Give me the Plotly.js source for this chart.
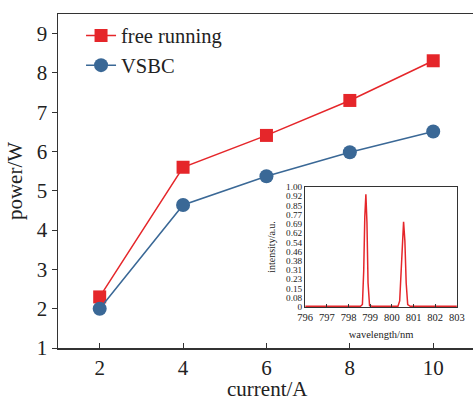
<!DOCTYPE html>
<html>
<head>
<meta charset="utf-8">
<script src="https://cdn.plot.ly/plotly-3.0.1.min.js"></script>
<style>html,body{margin:0;padding:0;background:#fff;overflow:hidden;}#wrap{width:473px;height:397px;overflow:hidden;}#chart{width:477px;height:397px;}</style>
</head>
<body>
<div id="wrap"><div id="chart"></div></div>
<script>
// main chart data
const current = [2, 4, 6, 8, 10];
const freeRunning = [2.3, 5.6, 6.41, 7.3, 8.31];
const vsbc = [2.0, 4.64, 5.37, 5.98, 6.51];

// inset spectrum
const wavelength = [796, 797, 798, 798.55, 798.64, 798.70, 798.75, 798.80, 798.85, 798.90, 798.97, 799.1, 800, 800.28, 800.36, 800.43, 800.49, 800.54, 800.60, 800.66, 800.73, 800.85, 801.5, 802, 803];
const intensity = [0.005, 0.005, 0.005, 0.005, 0.02, 0.3, 0.75, 0.94, 0.7, 0.2, 0.01, 0.005, 0.005, 0.006, 0.05, 0.3, 0.62, 0.71, 0.55, 0.2, 0.02, 0.005, 0.005, 0.005, 0.005];

const insetTickVals = [0, 0.077, 0.154, 0.231, 0.308, 0.385, 0.462, 0.538, 0.615, 0.692, 0.769, 0.846, 0.923, 1.0];
const insetTickText = ['0', '0.08', '0.15', '0.23', '0.31', '0.38', '0.46', '0.54', '0.62', '0.69', '0.77', '0.85', '0.92', '1.00'];
const insetXTicks = [796, 797, 798, 799, 800, 801, 802, 803];

const RED = '#e5262a';
const BLUE = '#3a6896';
const FONT = 'Liberation Serif';

const traces = [
  {x: current, y: freeRunning, name: 'free running', type: 'scatter', mode: 'lines+markers',
   line: {color: RED, width: 1.5}, marker: {symbol: 'square', size: 13, color: RED}},
  {x: current, y: vsbc, name: 'VSBC', type: 'scatter', mode: 'lines+markers',
   line: {color: BLUE, width: 1.5}, marker: {symbol: 'circle', size: 14, color: BLUE}},
  {x: wavelength, y: intensity, type: 'scatter', mode: 'lines', xaxis: 'x2', yaxis: 'y2',
   line: {color: RED, width: 1.5}, showlegend: false}
];

const layout = {
  width: 477, height: 397,
  margin: {l: 58, r: 0, t: 14, b: 49},
  paper_bgcolor: '#fff', plot_bgcolor: 'rgba(0,0,0,0)',
  font: {family: FONT, color: '#222'},
  showlegend: true,
  legend: {x: 0.055, y: 0.995, xanchor: 'left', yanchor: 'top', bgcolor: 'rgba(0,0,0,0)',
           font: {size: 20.5, family: FONT}, tracegroupgap: 0, itemwidth: 30},
  xaxis: {range: [1, 11.05], tickvals: [2, 4, 6, 8, 10], ticks: 'inside', ticklen: 5, tickcolor: '#333',
          showline: true, linecolor: '#333', linewidth: 1.5, mirror: true, showgrid: false, zeroline: false,
          tickfont: {size: 21, family: FONT}, automargin: false},
  yaxis: {range: [1, 9.5], tickvals: [1, 2, 3, 4, 5, 6, 7, 8, 9], ticks: 'outside', ticklen: 5, tickcolor: '#333',
          showline: true, linecolor: '#333', linewidth: 1.5, showgrid: false, zeroline: false,
          tickfont: {size: 21, family: FONT}, automargin: false,
          title: {text: 'power/W', font: {size: 21, family: FONT}, standoff: 8}},
  xaxis2: {domain: [0.59, 0.952], anchor: 'y2', range: [796, 803], tickvals: insetXTicks,
           ticks: 'inside', ticklen: 3, tickcolor: '#333', showline: true, mirror: true, linecolor: '#333', linewidth: 1.2,
           showgrid: false, zeroline: false, tickfont: {size: 10.5, family: FONT},
           title: {text: 'wavelength/nm', font: {size: 10.5, family: FONT}, standoff: 9}},
  yaxis2: {domain: [0.123, 0.482], anchor: 'x2', range: [0, 1.0], tickvals: insetTickVals, ticktext: insetTickText,
           ticks: '', showline: true, mirror: true, linecolor: '#333', linewidth: 1.2,
           showgrid: false, zeroline: false, tickfont: {size: 9.2, family: FONT},
           title: {text: 'intensity/a.u.', font: {size: 10, family: FONT}, standoff: 8}},
  annotations: [
    {text: 'current/A', xref: 'paper', yref: 'paper', x: 0.5, y: -0.122, xanchor: 'center', yanchor: 'middle',
     showarrow: false, font: {size: 21, family: FONT, color: '#222'}}
  ]
};

Plotly.newPlot('chart', traces, layout, {displayModeBar: false, staticPlot: true});
</script>
</body>
</html>
